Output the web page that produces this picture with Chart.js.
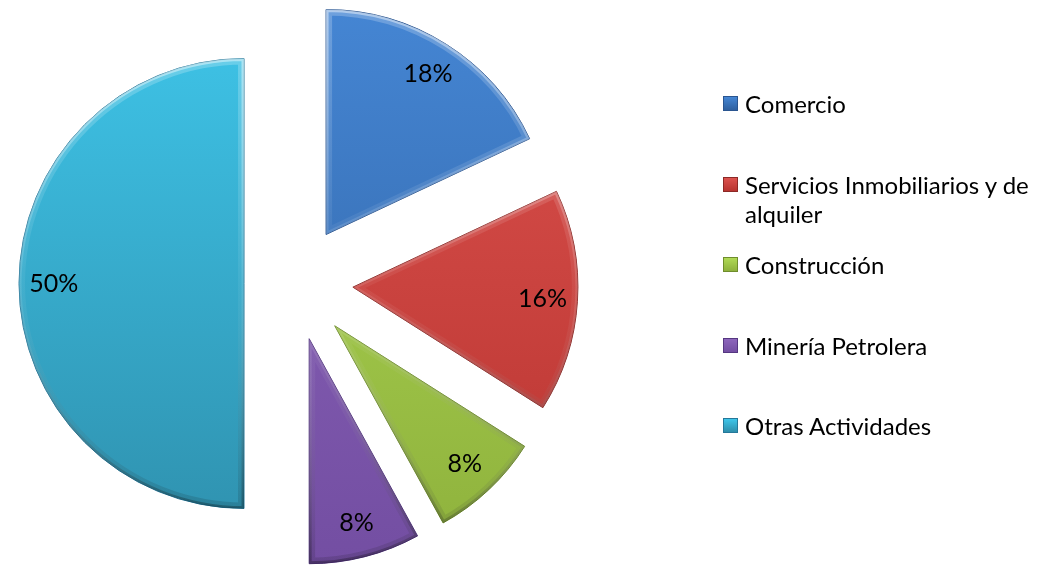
<!DOCTYPE html>
<html lang="es">
<head>
<meta charset="UTF-8">
<title>Distribución por actividad</title>
<script src="https://cdn.jsdelivr.net/npm/chart.js"></script>
<style>
  html, body { margin: 0; padding: 0; background: #fff; }
  #wrap { position: relative; width: 1043px; height: 567px; overflow: hidden; }
  #pie { position: absolute; left: 0; top: 0; }
  #legend { position: absolute; left: 723px; top: 0; width: 320px; font-family: Lato, "Noto Sans", sans-serif; font-size: 24px; color: #000; }
  .item { position: absolute; left: 0; width: 320px; display: flex; align-items: flex-start; line-height: 29px; }
  .box { flex: none; width: 15px; height: 15px; margin-top: 7px; margin-right: 7px; box-sizing: border-box; }
</style>
</head>
<body>
<div id="wrap">
  <canvas id="pie" width="1043" height="567"></canvas>
  <div id="legend"></div>
</div>
<script>
// data
const categories = ['Comercio', 'Servicios Inmobiliarios y de alquiler', 'Construcción', 'Minería Petrolera', 'Otras Actividades'];
const shares = [18, 16, 8, 8, 50];

// styles
const topColors = ['#4586d4', '#dc524e', '#b0da55', '#8d66bc', '#3fc6ea'];
const bottomColors = ['#2f609f', '#b83430', '#8eb13c', '#734ea2', '#2e8eab'];
const edgeColors = ['#2a5590', '#8c2926', '#6f8d2c', '#553781', '#25789a'];
const explode = [58, 58, 58, 57, 51];
const pieRadius = 225;

function sliceFill(ctx) {
    const i = ctx.dataIndex;
    const g = ctx.chart.ctx.createLinearGradient(0, 0, 0, 567);
    g.addColorStop(0, topColors[i]);
    g.addColorStop(1, bottomColors[i]);
    return g;
}

// pull each slice out along its bisector
const explodePlugin = {
    id: 'explode',
    afterUpdate(chart) {
        chart.getDatasetMeta(0).data.forEach((arc, i) => {
            const mid = (arc.startAngle + arc.endAngle) / 2;
            arc.x += Math.cos(mid) * explode[i];
            arc.y += Math.sin(mid) * explode[i];
        });
    }
};

// soft bevel along the slice edges
const bevelPlugin = {
    id: 'bevel',
    afterDatasetsDraw(chart) {
        const c = chart.ctx;
        chart.getDatasetMeta(0).data.forEach(arc => {
            c.save();
            c.beginPath();
            c.moveTo(arc.x, arc.y);
            c.arc(arc.x, arc.y, arc.outerRadius, arc.startAngle, arc.endAngle);
            c.closePath();
            c.clip();
            const g = c.createLinearGradient(0, arc.y - arc.outerRadius, 0, arc.y + arc.outerRadius);
            g.addColorStop(0, 'rgba(255,255,255,0.5)');
            g.addColorStop(0.5, 'rgba(255,255,255,0.12)');
            g.addColorStop(1, 'rgba(0,0,0,0.3)');
            c.strokeStyle = g;
            c.lineJoin = 'round';
            c.lineWidth = 12;
            c.globalAlpha = 0.45;
            c.stroke();
            c.lineWidth = 5;
            c.globalAlpha = 0.9;
            c.stroke();
            c.restore();
        });
    }
};

// percentage labels inside the slices
const labelPlugin = {
    id: 'sliceLabels',
    afterDatasetsDraw(chart) {
        const c = chart.ctx;
        c.save();
        c.font = '25px Lato, "Noto Sans", sans-serif';
        c.fillStyle = '#000';
        c.textAlign = 'center';
        c.textBaseline = 'middle';
        chart.getDatasetMeta(0).data.forEach((arc, i) => {
            const mid = (arc.startAngle + arc.endAngle) / 2;
            const r = arc.outerRadius * 0.845;
            c.fillText(shares[i] + '%', arc.x + Math.cos(mid) * r, arc.y + Math.sin(mid) * r);
        });
        c.restore();
    }
};

const ctx = document.getElementById('pie').getContext('2d');
new Chart(ctx, {
    type: 'pie',
    data: {
        labels: categories,
        datasets: [{
            data: shares,
            backgroundColor: sliceFill,
            borderColor: edgeColors,
            borderWidth: 1
        }]
    },
    options: {
        responsive: false,
        animation: false,
        radius: pieRadius,
        layout: { padding: { left: 0, right: 453, top: 0, bottom: 0 } },
        plugins: {
            legend: { display: false },
            tooltip: { enabled: false }
        }
    },
    plugins: [explodePlugin, bevelPlugin, labelPlugin]
});

// legend on the right
const legend = document.getElementById('legend');
categories.forEach((name, i) => {
    const item = document.createElement('div');
    item.className = 'item';
    item.style.top = (89 + i * 80.5) + 'px';
    const box = document.createElement('span');
    box.className = 'box';
    box.style.background = 'linear-gradient(' + topColors[i] + ', ' + bottomColors[i] + ')';
    box.style.border = '1px solid ' + edgeColors[i];
    const text = document.createElement('span');
    text.textContent = name;
    item.appendChild(box);
    item.appendChild(text);
    legend.appendChild(item);
});
</script>
</body>
</html>
